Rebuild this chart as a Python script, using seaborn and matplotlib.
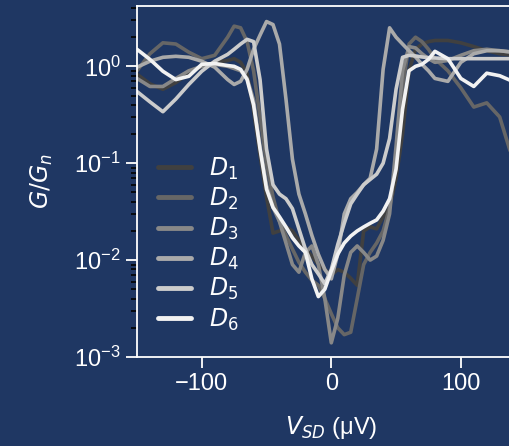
import numpy as np
import pandas as pd
import matplotlib
matplotlib.use("Agg")
import matplotlib.pyplot as plt
import seaborn as sns

# bias voltage grid (uV)
v_sd = [-150, -140, -130, -120, -110, -100, -90, -80,
        -75, -70, -65, -60, -55, -50, -45, -40, -35, -30, -25, -20, -15, -10, -5,
        0, 5, 10, 15, 20, 25, 30, 35, 40, 45, 50, 55, 60, 65, 70, 75,
        80, 90, 100, 110, 120, 130, 140, 150]

# normalised conductance G/Gn for each device
g_d1 = [0.83, 0.66, 0.58, 0.68, 0.85, 1.0, 1.1, 1.15,
        1.2, 1.1, 0.85, 0.35, 0.12, 0.045, 0.019, 0.02, 0.022, 0.02, 0.016, 0.013, 0.011, 0.009, 0.008,
        0.007, 0.008, 0.0075, 0.0065, 0.0055, 0.02, 0.022, 0.021, 0.028, 0.035, 0.07, 0.2, 0.9, 1.5, 1.7, 1.8,
        1.85, 1.85, 1.75, 1.6, 1.45, 1.35, 1.3, 1.25]
g_d2 = [0.9, 1.35, 1.75, 1.7, 1.4, 1.2, 1.3, 2.0,
        2.6, 2.5, 1.8, 0.9, 0.3, 0.1, 0.045, 0.025, 0.018, 0.013, 0.0095, 0.0075, 0.0062, 0.0055, 0.004,
        0.0028, 0.002, 0.0017, 0.0018, 0.004, 0.009, 0.012, 0.015, 0.02, 0.035, 0.1, 0.6, 1.7, 2.0, 1.8, 1.5,
        1.2, 0.9, 0.6, 0.38, 0.42, 0.3, 0.11, 0.05]
g_d3 = [0.75, 0.62, 0.62, 0.75, 0.9, 1.0, 1.05, 1.0,
        0.95, 0.9, 0.75, 0.45, 0.15, 0.06, 0.035, 0.025, 0.015, 0.009, 0.0075, 0.012, 0.014, 0.009, 0.004,
        0.0014, 0.0025, 0.007, 0.012, 0.014, 0.012, 0.01, 0.011, 0.016, 0.03, 0.15, 0.9, 1.6, 1.55, 1.35, 1.2,
        1.1, 1.15, 1.3, 1.45, 1.5, 1.45, 1.4, 1.35]
g_d4 = [0.98, 1.13, 1.24, 1.27, 1.24, 1.13, 0.98, 0.73,
        0.65, 0.7, 0.93, 1.5, 2.1, 2.9, 2.7, 1.7, 0.46, 0.11, 0.048, 0.03, 0.018, 0.0115, 0.008,
        0.0064, 0.0115, 0.03, 0.043, 0.05, 0.06, 0.07, 0.14, 0.93, 2.5, 2.0, 1.7, 1.45, 1.25, 1.05, 0.9,
        0.75, 0.7, 1.1, 1.35, 1.45, 1.45, 1.4, 1.4]
g_d5 = [0.55, 0.43, 0.34, 0.46, 0.65, 0.89, 1.13, 1.33,
        1.5, 1.7, 1.9, 1.8, 0.73, 0.14, 0.06, 0.048, 0.043, 0.034, 0.021, 0.013, 0.009, 0.0072, 0.0057,
        0.008, 0.0145, 0.024, 0.038, 0.048, 0.06, 0.068, 0.077, 0.1, 0.18, 0.58, 1.24, 1.3, 1.28, 1.25, 1.23,
        1.22, 1.2, 1.2, 1.2, 1.2, 1.2, 1.2, 1.2]
g_d6 = [1.5, 1.18, 0.89, 0.73, 0.79, 1.05, 1.07, 1.02,
        1.0, 0.93, 0.73, 0.4, 0.14, 0.054, 0.035, 0.028, 0.022, 0.017, 0.014, 0.012, 0.0064, 0.0042, 0.005,
        0.0077, 0.0115, 0.015, 0.0177, 0.02, 0.022, 0.024, 0.026, 0.032, 0.043, 0.087, 0.36, 0.9, 1.0, 1.05, 1.18,
        1.43, 1.2, 0.75, 0.62, 0.85, 0.8, 0.7, 0.65]

devices = ["$D_1$", "$D_2$", "$D_3$", "$D_4$", "$D_5$", "$D_6$"]
greys = ["#404040", "#666666", "#888888", "#aaaaaa", "#cccccc", "#f2f2f2"]

frames = []
for name, g in zip(devices, [g_d1, g_d2, g_d3, g_d4, g_d5, g_d6]):
    frames.append(pd.DataFrame({"V": v_sd, "G": g, "device": name}))
df = pd.concat(frames, ignore_index=True)

bg = "#1f3763"
sns.set_theme(style="ticks")
# Arial-like text, DejaVu for the math symbols
plt.rcParams["font.family"] = ["Liberation Sans", "DejaVu Sans"]
plt.rcParams["mathtext.fontset"] = "dejavusans"

fig = plt.figure(figsize=(5.10, 4.46), dpi=100, facecolor=bg)
ax = fig.add_axes([0.2686, 0.1996, 0.762, 0.787])
ax.set_facecolor(bg)

sns.lineplot(data=df, x="V", y="G", hue="device", palette=greys,
             linewidth=2.6, sort=False, ax=ax)

ax.set_yscale("log")
ax.set_xlim(-150, 150)
ax.set_ylim(1e-3, 4.2)
ax.set_xticks([-100, 0, 100])
ax.set_xticklabels(["\u2212100", "0", "100"])

for s in ax.spines.values():
    s.set_color("white")
    s.set_linewidth(1.3)

ax.tick_params(axis="both", which="major", colors="white", labelsize=17,
               length=8, width=1.3, direction="out")
ax.tick_params(axis="y", which="minor", color="black", length=4, width=1.2)
ax.tick_params(axis="x", which="minor", bottom=False)

ax.set_xlabel("$V_{SD}$ (\u03bcV)", color="white", fontsize=17, labelpad=14)
ax.set_ylabel("$G/G_n$", color="white", fontsize=17, labelpad=14)

leg = ax.legend(loc="upper left", bbox_to_anchor=(0.0, 0.635), frameon=False,
                fontsize=17, handlelength=1.4, labelspacing=0.17, handletextpad=0.75)
for t in leg.get_texts():
    t.set_color("white")
for h in leg.get_lines():
    h.set_linewidth(3.5)

fig.savefig("out.png", dpi=100, facecolor=bg)
